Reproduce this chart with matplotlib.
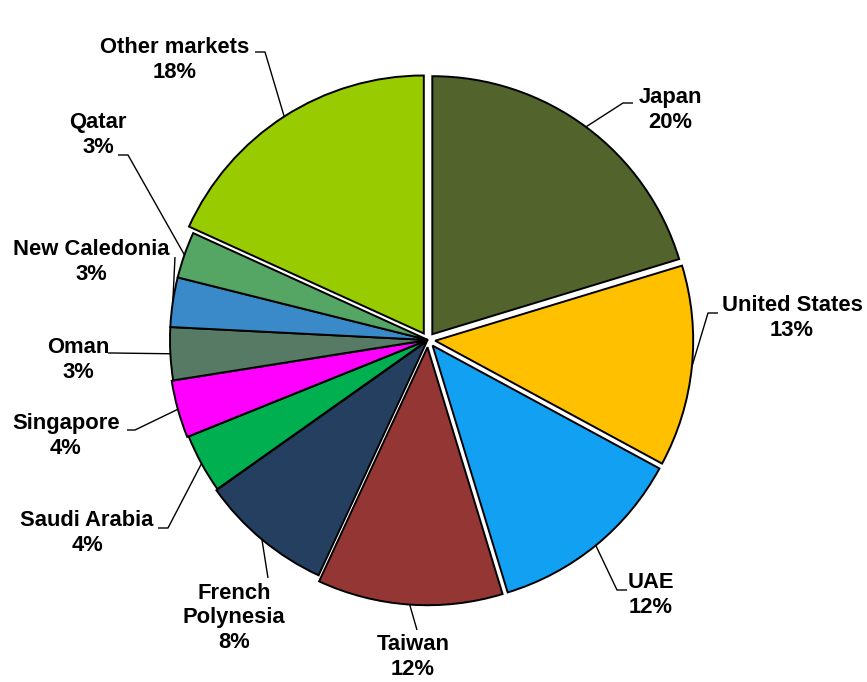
import matplotlib
matplotlib.use("Agg")
import matplotlib.pyplot as plt
import numpy as np

# ---- data ----
markets = ["Japan", "United States", "UAE", "Taiwan", "French\nPolynesia",
           "Saudi Arabia", "Singapore", "Oman", "New Caledonia", "Qatar",
           "Other markets"]
shares = [20.3, 12.6, 12.4, 11.6, 8.3, 3.7, 3.6, 3.3, 3.1, 2.9, 18.2]
colors = ["#52632B", "#FFC000", "#12A0F2", "#943634", "#243F60",
          "#00B050", "#FF00FF", "#577A65", "#3A89C9", "#55A564", "#99CC00"]
explode = [0.028, 0.028, 0.028, 0.028, 0.006, 0.0, 0.006, 0.0, 0.0, 0.0, 0.03]

# ---- layout (pixel coords, y measured from top) ----
W, H = 867, 682
CX, CY, R = 428, 340, 258
text_pos = [(670, 110), (792, 318), (651, 595), (413, 657), (234, 618),
            (87, 533), (66, 436), (78, 360), (91, 262), (98, 135), (175, 60)]
elbows = [[(623, 103), (633, 103)],
          [(708, 313), (718, 313)],
          [(617, 590), (627, 590)],
          [(417, 630)],
          [(268, 578)],
          [(168, 528), (158, 528)],
          [(135, 430), (127, 430)],
          [(113, 353), (108, 353)],
          [(175, 257)],
          [(128, 155), (118, 155)],
          [(265, 52), (255, 52)]]

fig = plt.figure(figsize=(W / 100, H / 100), dpi=100)
ax = fig.add_axes([0, 0, 1, 1])

wedges, _ = ax.pie(shares, colors=colors, explode=[e * R for e in explode],
                   startangle=90, counterclock=False, center=(CX, H - CY),
                   radius=R, wedgeprops=dict(edgecolor="black", linewidth=1.4),
                   frame=True)
ax.set_xlim(0, W)
ax.set_ylim(0, H)
ax.axis("off")

total = sum(shares)
font = dict(family=["Liberation Sans", "DejaVu Sans"], fontsize=15.8,
            fontweight="bold")
for w, name, val, tp, el in zip(wedges, markets, shares, text_pos, elbows):
    ang = np.deg2rad((w.theta1 + w.theta2) / 2)
    cx, cy = w.center
    sx = cx + R * np.cos(ang)
    sy = cy + R * np.sin(ang)
    xs = [sx] + [p[0] for p in el]
    ys = [sy] + [H - p[1] for p in el]
    ax.plot(xs, ys, color="black", linewidth=1.0, solid_capstyle="butt")
    pct = int(round(val / total * 100))
    ax.text(tp[0], H - tp[1], f"{name}\n{pct}%", ha="center", va="center",
            multialignment="center", linespacing=1.2, **font)

fig.savefig("out.png", dpi=100)
